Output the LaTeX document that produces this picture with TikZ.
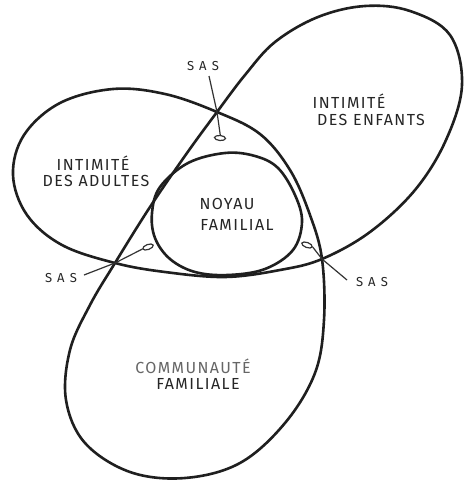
\documentclass[tikz,border=0pt]{standalone}
\usepackage{fontspec}
\setmainfont{Fira Sans}
\usetikzlibrary{shapes.geometric}
\tikzset{
  outline/.style={line width=2.6pt, line join=round, line cap=round, black!88},
  leader/.style={line width=1.2pt, black!80},
  handle/.style={draw, line width=1.2pt, black!80, ellipse, minimum width=11pt, minimum height=5pt, inner sep=0pt},
  lbl/.style={font=\fontsize{16}{18}\selectfont\addfontfeatures{LetterSpace=9}, text=black!85, inner sep=0pt, anchor=center},
  sas/.style={font=\fontsize{13}{15}\selectfont\addfontfeatures{LetterSpace=40}, text=black!85, inner sep=0pt}
}
\begin{document}
\begin{tikzpicture}[x=1pt,y=-1pt]
\useasboundingbox (0,0) rectangle (465,480);
\fill[white] (0,0) rectangle (465,480);
% trefoil outline
\draw[outline] plot[smooth cycle, tension=0.6] coordinates {
 (217,112) (165,94) (113,89) (60,103) (24,135) (13,175) (27,215) (62,245)
 (115,263) (165,272) (225,277) (280,270)
 (322,259) (370,232) (415,190) (446,140) (462,85) (450,35) (410,11) (365,6) (318,17) (275,42) (245,75)
 (217,112) (187,153) (150,207)
 (115,263) (90,305) (70,350) (66,400) (85,443) (130,472) (185,478) (240,463) (285,423) (315,373) (324,320)
 (322,259) (310,215) (290,170) (260,134)
};
% noyau
\draw[outline] plot[smooth cycle, tension=0.6] coordinates {
 (225,153) (255,156) (278,168) (295,195) (302,222) (293,250) (265,269) (228,275) (195,272) (170,259) (155,238) (152,213) (160,187) (188,163)
};
% crossings
\coordinate (T) at (217,112);
\coordinate (L) at (115,263);
\coordinate (R) at (322,259);
% labels
\node[lbl] (ad1) at (93,163) {INTIMITÉ};
\node[lbl] (ad2) at (96,181) {DES ADULTES};
\node[lbl] (en1) at (349,101) {INTIMITÉ};
\node[lbl] (en2) at (371,120) {DES ENFANTS};
\node[lbl] (no1) at (227,204) {NOYAU};
\node[lbl] (no2) at (237,225) {FAMILIAL};
\node[lbl, text=black!60] (co1) at (193,366) {COMMUNAUTÉ};
\node[lbl] (co2) at (198,384) {FAMILIALE};
% SAS
\node[sas] (sasT) at (203,66) {SAS};
\node[sas] (sasL) at (61,278) {SAS};
\node[sas] (sasR) at (372,282) {SAS};
\node[handle, rotate=-5] (hT) at (220,138) {};
\node[handle, rotate=20] (hL) at (148,247) {};
\node[handle, rotate=-20] (hR) at (307,245) {};
\coordinate (sT) at (209,76);
\coordinate (sL) at (84,275);
\coordinate (sR) at (347,280);
\draw[leader] (sT) -- (T) -- (hT.north);
\draw[leader] (sL) -- (L) -- (hL.west);
\draw[leader] (sR) -- (R) -- (hR.east);
\end{tikzpicture}
\end{document}
